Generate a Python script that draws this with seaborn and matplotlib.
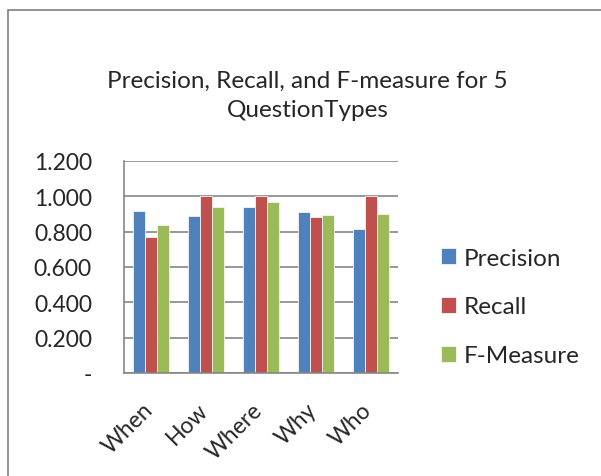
import matplotlib
matplotlib.use("Agg")
import matplotlib.pyplot as plt
from matplotlib.patches import Rectangle
from matplotlib.transforms import ScaledTranslation
import seaborn as sns
import pandas as pd

categories = ["When", "How", "Where", "Why", "Who"]
precision = [0.916, 0.886, 0.940, 0.910, 0.816]
recall = [0.771, 1.000, 1.000, 0.882, 1.000]
f_measure = [0.837, 0.938, 0.968, 0.895, 0.899]
series_names = ["Precision", "Recall", "F-Measure"]
y_ticks = [0.0, 0.2, 0.4, 0.6, 0.8, 1.0, 1.2]
y_tick_labels = ["-", "0.200", "0.400", "0.600", "0.800", "1.000", "1.200"]

df = pd.DataFrame({
    "Question": categories * 3,
    "Measure": [series_names[0]] * 5 + [series_names[1]] * 5 + [series_names[2]] * 5,
    "Value": precision + recall + f_measure,
})

sns.set_style("white")
plt.rcParams["font.family"] = ["Lato", "DejaVu Sans"]
FS_TEXT = 17.5
FS_TICK = 16.5

W, H = 601, 477
fig = plt.figure(figsize=(W / 100, H / 100), dpi=100)
ax = fig.add_axes([124 / W, 1 - 374 / H, (398 - 124) / W, (374 - 162) / H])

palette = ["#4F81BD", "#C0504D", "#9BBB59"]
sns.barplot(data=df, x="Question", y="Value", hue="Measure", palette=palette,
            width=0.66, edgecolor="#f4f4f4", linewidth=0.6, ax=ax, legend=True,
            saturation=1)

ax.set_ylim(0, 1.2)
ax.set_xlim(-0.5, 4.5)
ax.set_yticks(y_ticks)
ax.set_yticklabels(y_tick_labels, fontsize=FS_TICK)
ax.yaxis.grid(True, color="#868686", linewidth=1.2)
ax.set_axisbelow(True)
ax.set_xlabel("")
ax.set_ylabel("")
for s in ["top", "right"]:
    ax.spines[s].set_visible(False)
for s in ["left", "bottom"]:
    ax.spines[s].set_color("#868686")
    ax.spines[s].set_linewidth(1.2)
ax.tick_params(axis="y", left=False, length=0, pad=32 * 0.72)
ax.tick_params(axis="x", bottom=False, length=0, pad=0)
ax.set_xticks(range(len(categories)))
ax.set_xticklabels(categories, rotation=45, ha="right", va="center",
                   rotation_mode="anchor", fontsize=FS_TICK)
shift = ScaledTranslation(-2 / 100, -33 / 100, fig.dpi_scale_trans)
for lbl in ax.get_xticklabels():
    lbl.set_transform(lbl.get_transform() + shift)

title_x = 307.5 / W
fig.text(title_x, 1 - 81 / H, "Precision, Recall, and F-measure for 5",
         ha="center", va="center", fontsize=FS_TEXT)
fig.text(title_x, 1 - 111 / H, "QuestionTypes", ha="center", va="center", fontsize=FS_TEXT)

leg = ax.legend(loc="center left", bbox_to_anchor=(441 / W, 1 - 308 / H),
                bbox_transform=fig.transFigure, frameon=False, fontsize=FS_TEXT,
                labelspacing=1.15, handlelength=0.62, handleheight=0.62,
                handletextpad=0.3, borderpad=0, borderaxespad=0)

fig.add_artist(Rectangle((8 / W, -0.1), 1.2, 1 - 11 / H + 0.1, transform=fig.transFigure,
                         fill=False, edgecolor="#7f7f7f", linewidth=1.2, clip_on=False))

fig.savefig("out.png", dpi=100)
